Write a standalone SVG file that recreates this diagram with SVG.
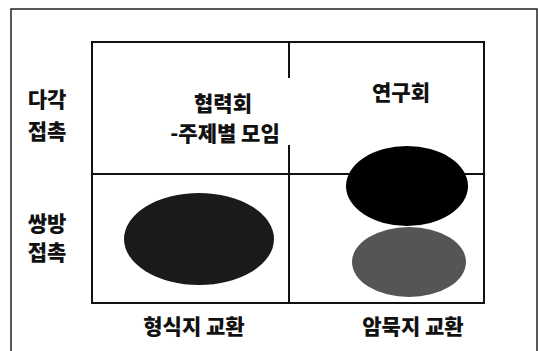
<svg xmlns="http://www.w3.org/2000/svg" width="538" height="351" viewBox="0 0 538 351">
<style>
.t{font-family:"Noto Sans CJK KR","Noto Sans",sans-serif;font-weight:900;font-size:21px;fill:#111;text-anchor:middle;dominant-baseline:central}
.ln{stroke:#111;stroke-width:2;fill:none}
</style>
<rect x="0" y="0" width="538" height="351" fill="#fff"/>
<rect x="11" y="9" width="526" height="360" fill="none" stroke="#222" stroke-width="1.5"/>
<g id="grid">
<rect class="ln" x="92" y="42" width="392" height="261"/>
<line class="ln" x1="92" y1="174" x2="484" y2="174"/>
<line class="ln" x1="289" y1="42" x2="289" y2="78"/>
<line class="ln" x1="289" y1="145" x2="289" y2="303"/>
</g>
<g id="row-labels">
<text class="t" x="47" y="98">다각</text>
<text class="t" x="47" y="130">접촉</text>
<text class="t" x="47" y="222">쌍방</text>
<text class="t" x="47" y="251">접촉</text>
</g>
<g id="col-labels">
<text class="t" x="194" y="325">형식지 교환</text>
<text class="t" x="413" y="325">암묵지 교환</text>
</g>
<g id="cell-hyeopryeokhoe">
<text class="t" x="223" y="102">협력회</text>
<text class="t" x="225" y="132">-주제별 모임</text>
</g>
<g id="cell-yeonguhoe">
<text class="t" x="401" y="91">연구회</text>
</g>
<g id="ellipse-formal">
<ellipse cx="199" cy="239" rx="75" ry="46" fill="#1a1a1a"/>
</g>
<g id="ellipse-tacit-gray">
<ellipse cx="409" cy="262" rx="57" ry="35" fill="#555"/>
</g>
<g id="ellipse-tacit-black">
<ellipse cx="407" cy="186" rx="61" ry="40" fill="#000"/>
</g>
</svg>
